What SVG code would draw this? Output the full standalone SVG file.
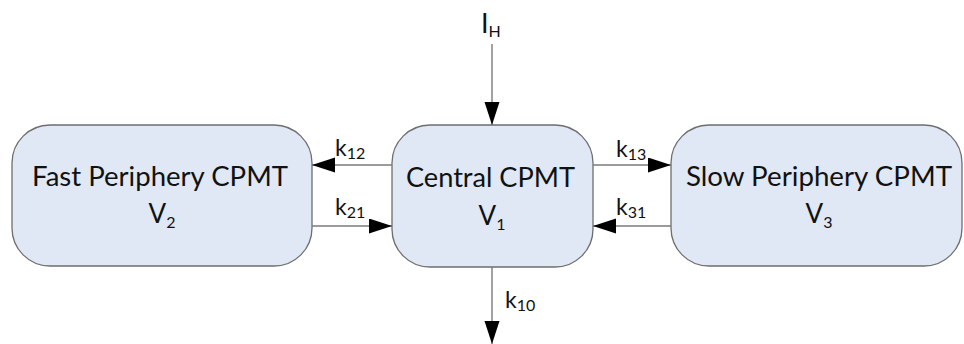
<svg xmlns="http://www.w3.org/2000/svg" width="964" height="344" viewBox="0 0 964 344">
<style>
.box{fill:#dfe8f4;stroke:#6e6e6e;stroke-width:1.3}
.t{font-family:Lato,"Open Sans","Liberation Sans",sans-serif;font-size:26px;fill:#111;text-anchor:middle}
.k{font-family:Lato,"Open Sans","Liberation Sans",sans-serif;font-size:23px;fill:#111}
.s{font-size:16px}
.c{stroke:#7a7a7a;stroke-width:1.4;fill:none;marker-end:url(#ah)}
</style>
<defs>
<marker id="ah" markerUnits="userSpaceOnUse" markerWidth="24" markerHeight="16" refX="23" refY="7.5" orient="auto">
<path d="M0,0 L23,7.5 L0,15 Z" fill="#000"/>
</marker>
</defs>
<rect width="964" height="344" fill="#fff"/>
<g id="fast">
<rect class="box" x="12" y="125" width="300" height="141" rx="38" ry="38"/>
<text class="t" x="160" y="186" textLength="256" lengthAdjust="spacingAndGlyphs">Fast Periphery CPMT</text>
<text class="t" x="162" y="223">V<tspan class="s" dy="5">2</tspan></text>
</g>
<g id="central">
<rect class="box" x="392" y="125" width="201" height="142" rx="38" ry="38"/>
<text class="t" x="490.5" y="187" textLength="169" lengthAdjust="spacingAndGlyphs">Central CPMT</text>
<text class="t" x="492" y="225">V<tspan class="s" dy="5">1</tspan></text>
</g>
<g id="slow">
<rect class="box" x="671" y="125" width="291" height="141" rx="38" ry="38"/>
<text class="t" x="819" y="186" textLength="266" lengthAdjust="spacingAndGlyphs">Slow Periphery CPMT</text>
<text class="t" x="819" y="223">V<tspan class="s" dy="5">3</tspan></text>
</g>
<g id="connectors">
<line class="c" x1="492" y1="44" x2="492" y2="125"/>
<line class="c" x1="392" y1="165" x2="312" y2="165"/>
<line class="c" x1="312" y1="226" x2="392" y2="226"/>
<line class="c" x1="593" y1="165" x2="671" y2="165"/>
<line class="c" x1="671" y1="226" x2="593" y2="226"/>
<line class="c" x1="492" y1="267" x2="492" y2="344"/>
<text class="k" x="481" y="33" style="font-size:27px">I<tspan class="s" dy="4">H</tspan></text>
<text class="k" x="335" y="156">k<tspan class="s" dy="3">12</tspan></text>
<text class="k" x="335" y="215">k<tspan class="s" dy="3">21</tspan></text>
<text class="k" x="616" y="157">k<tspan class="s" dy="3">13</tspan></text>
<text class="k" x="616" y="215">k<tspan class="s" dy="3">31</tspan></text>
<text class="k" x="505" y="308">k<tspan class="s" dy="3">10</tspan></text>
</g>
</svg>
